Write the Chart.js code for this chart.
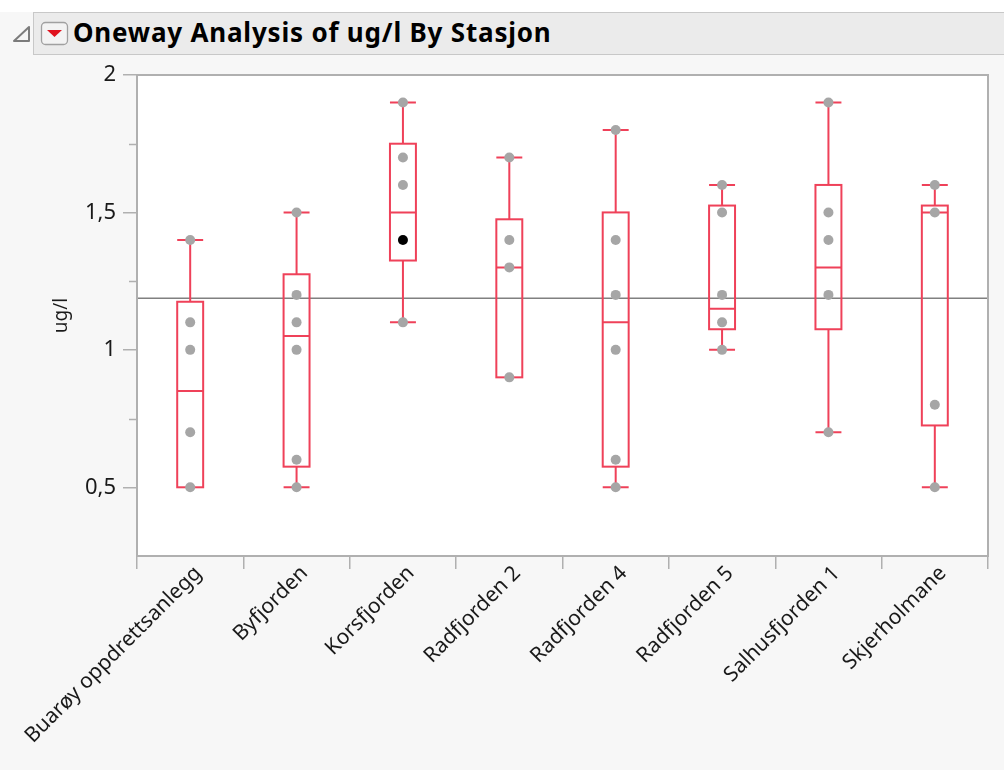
<!DOCTYPE html>
<html>
<head>
<meta charset="utf-8">
<script src="https://cdn.jsdelivr.net/npm/chart.js@4.4.1/dist/chart.umd.min.js"></script>
<style>
  html, body { margin: 0; padding: 0; }
  body { width: 1004px; height: 770px; background: #f7f7f7; position: relative; overflow: hidden; font-family: "Noto Sans", sans-serif; }
  #topstrip { position: absolute; left: 0; top: 0; width: 1004px; height: 12px; background: #ffffff; }
  #header { position: absolute; left: 33px; top: 12px; width: 980px; height: 41px; background: #ebebeb; border: 1.5px solid #c8c8c8; border-right: none; }
  #title { position: absolute; left: 73px; top: 18px; font-size: 26px; line-height: 28px; letter-spacing: 0.8px; font-weight: bold; color: #000; white-space: nowrap; }
  #icons { position: absolute; left: 0; top: 0; }
  #wrap { position: absolute; left: 0; top: 0; width: 1004px; height: 770px; }
</style>
</head>
<body>
<div id="topstrip"></div>
<div id="header"></div>
<svg id="icons" width="80" height="60">
  <path d="M14 41 L29 27 L29 41 Z" fill="#f4f4f4" stroke="#7c7c7c" stroke-width="2" stroke-linejoin="round"/>
  <rect x="41.5" y="22.5" width="26" height="22" rx="4" fill="#f3f3f3" stroke="#a0a0a0" stroke-width="1.3"/>
  <path d="M47 30 L62 30 L54.5 37 Z" fill="#e0121e"/>
</svg>
<div id="title">Oneway Analysis of ug/l By Stasjon</div>
<div id="wrap"><canvas id="chart" width="1004" height="770"></canvas></div>
<script>
// Stations and measured values (ug/l)
const stations = ["Buarøy oppdrettsanlegg", "Byfjorden", "Korsfjorden", "Radfjorden 2",
                  "Radfjorden 4", "Radfjorden 5", "Salhusfjorden 1", "Skjerholmane"];
const values = [
    [0.5, 0.7, 1.0, 1.1, 1.4],
    [0.5, 0.6, 1.0, 1.1, 1.2, 1.5],
    [1.1, 1.6, 1.7, 1.9],
    [0.9, 1.3, 1.4, 1.7],
    [0.5, 0.6, 1.0, 1.2, 1.4, 1.8],
    [1.0, 1.1, 1.2, 1.5, 1.6],
    [0.7, 1.2, 1.4, 1.5, 1.9],
    [0.5, 0.8, 1.5, 1.6]
];
// selected (black) row
const selStation = "Korsfjorden";
const selValue = 1.4;

// box plot stats
const q1 = [0.5, 0.575, 1.325, 0.9, 0.575, 1.075, 1.075, 0.725];
const median = [0.85, 1.05, 1.5, 1.3, 1.1, 1.15, 1.3, 1.5];
const q3 = [1.175, 1.275, 1.75, 1.475, 1.5, 1.525, 1.6, 1.525];
const whiskerLo = [0.5, 0.5, 1.1, 0.9, 0.5, 1.0, 0.7, 0.5];
const whiskerHi = [1.4, 1.5, 1.9, 1.7, 1.8, 1.6, 1.9, 1.6];
const grandMean = 1.1875;

const yMajor = [0.5, 1, 1.5, 2];
const yMinor = [0.75, 1.25, 1.75];

const boxRed = "#ef4159";
const axisGrey = "#b0b0b0";

const points = [];
values.forEach((arr, i) => arr.forEach(v => points.push({ x: stations[i], y: v })));

const boxPlugin = {
    id: "boxes",
    beforeDatasetsDraw(chart) {
        const ctx = chart.ctx;
        const area = chart.chartArea;
        const xs = chart.scales.x, ys = chart.scales.y;
        ctx.save();
        // grand mean line
        ctx.strokeStyle = "#808080";
        ctx.lineWidth = 1.5;
        ctx.beginPath();
        const my = ys.getPixelForValue(grandMean);
        ctx.moveTo(area.left, my);
        ctx.lineTo(area.right, my);
        ctx.stroke();

        const half = (xs.getPixelForValue(1) - xs.getPixelForValue(0)) * 0.122;
        ctx.strokeStyle = boxRed;
        ctx.lineWidth = 2;
        stations.forEach((s, i) => {
            const cx = xs.getPixelForValue(i);
            const yq1 = ys.getPixelForValue(q1[i]);
            const yq3 = ys.getPixelForValue(q3[i]);
            const ym = ys.getPixelForValue(median[i]);
            const ylo = ys.getPixelForValue(whiskerLo[i]);
            const yhi = ys.getPixelForValue(whiskerHi[i]);
            ctx.strokeRect(cx - half, yq3, half * 2, yq1 - yq3);
            ctx.beginPath();
            ctx.moveTo(cx - half, ym); ctx.lineTo(cx + half, ym);
            if (whiskerHi[i] > q3[i]) {
                ctx.moveTo(cx, yq3); ctx.lineTo(cx, yhi);
                ctx.moveTo(cx - half, yhi); ctx.lineTo(cx + half, yhi);
            }
            if (whiskerLo[i] < q1[i]) {
                ctx.moveTo(cx, yq1); ctx.lineTo(cx, ylo);
                ctx.moveTo(cx - half, ylo); ctx.lineTo(cx + half, ylo);
            }
            ctx.stroke();
        });
        ctx.restore();
    },
    beforeDraw(chart) {
        const ctx = chart.ctx;
        const a = chart.chartArea;
        ctx.save();
        ctx.fillStyle = "#ffffff";
        ctx.fillRect(a.left, a.top, a.right - a.left, a.bottom - a.top);
        ctx.restore();
    },
    afterDraw(chart) {
        const ctx = chart.ctx;
        const a = chart.chartArea;
        const ys = chart.scales.y;
        ctx.save();
        ctx.strokeStyle = axisGrey;
        ctx.lineWidth = 2;
        ctx.strokeRect(a.left, a.top, a.right - a.left, a.bottom - a.top);
        ctx.lineWidth = 1.5;
        ctx.beginPath();
        yMinor.forEach(v => {
            const y = Math.round(ys.getPixelForValue(v)) + 0.5;
            ctx.moveTo(a.left - 8, y); ctx.lineTo(a.left, y);
        });
        ctx.stroke();
        ctx.restore();
    }
};

new Chart(document.getElementById("chart"), {
    type: "scatter",
    data: {
        labels: stations,
        datasets: [
            {
                label: "ug/l",
                data: points,
                backgroundColor: "#a6a6a6",
                borderWidth: 0,
                pointRadius: 5
            },
            {
                label: "selected",
                data: [{ x: selStation, y: selValue }],
                backgroundColor: "#000000",
                borderWidth: 0,
                pointRadius: 5
            }
        ]
    },
    options: {
        responsive: false,
        animation: false,
        layout: { padding: { top: 75, right: 16, left: 0, bottom: 0 } },
        plugins: {
            legend: { display: false },
            tooltip: { enabled: false }
        },
        scales: {
            x: {
                type: "category",
                labels: stations,
                offset: true,
                grid: { offset: true, drawOnChartArea: false, tickLength: 13, color: axisGrey, lineWidth: 1.5 },
                border: { display: true, color: axisGrey, width: 2 },
                ticks: {
                    minRotation: 45,
                    maxRotation: 45,
                    padding: -8,
                    labelOffset: 8,
                    color: "#1a1a1a",
                    font: { family: "Noto Sans", size: 21 }
                },
                afterFit(scale) { scale.height = 214; }
            },
            y: {
                min: 0.25,
                max: 2,
                afterBuildTicks(scale) { scale.ticks = yMajor.map(v => ({ value: v })); },
                grid: { drawOnChartArea: false, tickLength: 14, color: axisGrey, lineWidth: 1.5 },
                border: { display: true, color: axisGrey, width: 2 },
                ticks: {
                    padding: 7,
                    color: "#1a1a1a",
                    font: { family: "Noto Sans", size: 22 },
                    callback: v => String(v).replace(".", ",")
                },
                title: {
                    display: true,
                    text: "ug/l",
                    color: "#1a1a1a",
                    font: { family: "Noto Sans", size: 19 },
                    padding: { top: 50, bottom: 0 }
                },
                afterFit(scale) { scale.width = 137; }
            }
        }
    },
    plugins: [boxPlugin]
});
</script>
</body>
</html>
